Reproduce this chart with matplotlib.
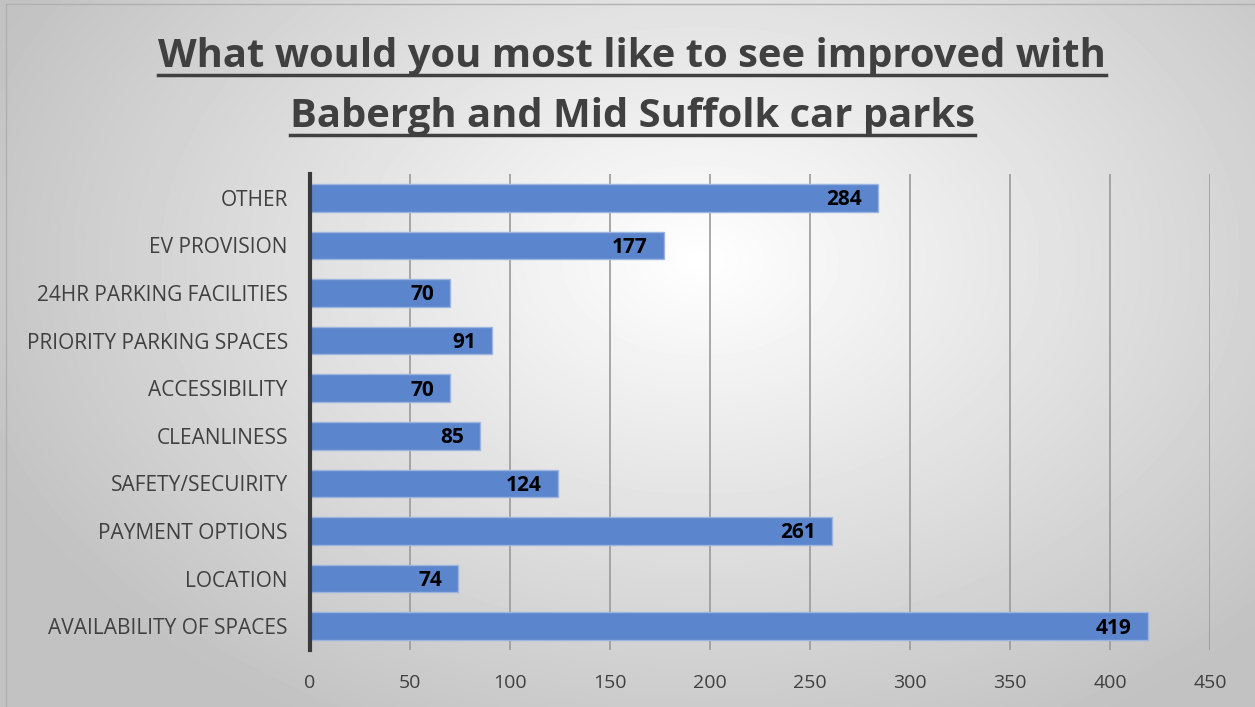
import matplotlib.pyplot as plt
import numpy as np

# data, bottom to top as drawn
categories = [
    "AVAILABILITY OF SPACES",
    "LOCATION",
    "PAYMENT OPTIONS",
    "SAFETY/SECUIRITY",
    "CLEANLINESS",
    "ACCESSIBILITY",
    "PRIORITY PARKING SPACES",
    "24HR PARKING FACILITIES",
    "EV PROVISION",
    "OTHER",
]
values = [419, 74, 261, 124, 85, 70, 91, 70, 177, 284]
x_ticks = [0, 50, 100, 150, 200, 250, 300, 350, 400, 450]

FONT = "Open Sans"
W, H = 1255, 707

fig = plt.figure(figsize=(W / 100, H / 100), dpi=100)

# radial grey gradient background
bg = fig.add_axes([0, 0, 1, 1], zorder=0)
yy, xx = np.mgrid[0:H, 0:W]
r = np.sqrt(((xx - 700) / 900) ** 2 + ((yy - 260) / 620) ** 2)
shade = np.clip(1.0 - 0.28 * r, 0.76, 1.0)
bg.imshow(shade, cmap="gray", vmin=0, vmax=1, extent=[0, W, H, 0], aspect="auto")
bg.plot([6, 6, W], [H, 4, 4], color="#b0b0b0", lw=1)
bg.set_xlim(0, W)
bg.set_ylim(H, 0)
bg.axis("off")

ax = fig.add_axes([310 / W, 1 - 650 / H, 900 / W, 476 / H], zorder=1)
ax.patch.set_alpha(0)
y = np.arange(len(categories))
ax.barh(y, values, height=0.58, color="#5b85cc", edgecolor="#9db4e0", linewidth=1, zorder=3)

for yi, v in zip(y, values):
    ax.text(v - 8, yi - 0.04, str(v), ha="right", va="center", fontsize=15,
            fontweight="bold", family=FONT, color="black", zorder=4)

ax.set_xlim(0, 450)
ax.set_ylim(-0.5, len(categories) - 0.5)
ax.set_xticks(x_ticks)
ax.set_xticklabels([str(t) for t in x_ticks], family=FONT, fontsize=14, color="#404040")
ax.set_yticks(y)
ax.set_yticklabels(categories, family=FONT, fontsize=15, color="#404040")
ax.tick_params(axis="both", length=0)
ax.tick_params(axis="x", pad=17)
ax.tick_params(axis="y", pad=16)
ax.xaxis.grid(True, color="#9a9a9a", lw=1.2, zorder=1)
for s in ("top", "right", "bottom"):
    ax.spines[s].set_visible(False)
ax.spines["left"].set_color("#3a3a3a")
ax.spines["left"].set_linewidth(3)
ax.spines["left"].set_zorder(5)

# title, bold and underlined
title_lines = ["What would you most like to see improved with",
               "Babergh and Mid Suffolk car parks"]
for i, line in enumerate(title_lines):
    t = fig.text(632 / W, 1 - (56 + 60 * i) / H, line, ha="center", va="center",
                 fontsize=28.8, fontweight="bold", family=FONT, color="#404040")
    fig.canvas.draw()
    bb = t.get_window_extent()
    yline = bb.y0 + 1
    fig.add_artist(plt.Line2D([bb.x0 / W, bb.x1 / W], [yline / H, yline / H],
                              color="#404040", lw=2.5, transform=fig.transFigure))

fig.savefig("out.png", dpi=100)
